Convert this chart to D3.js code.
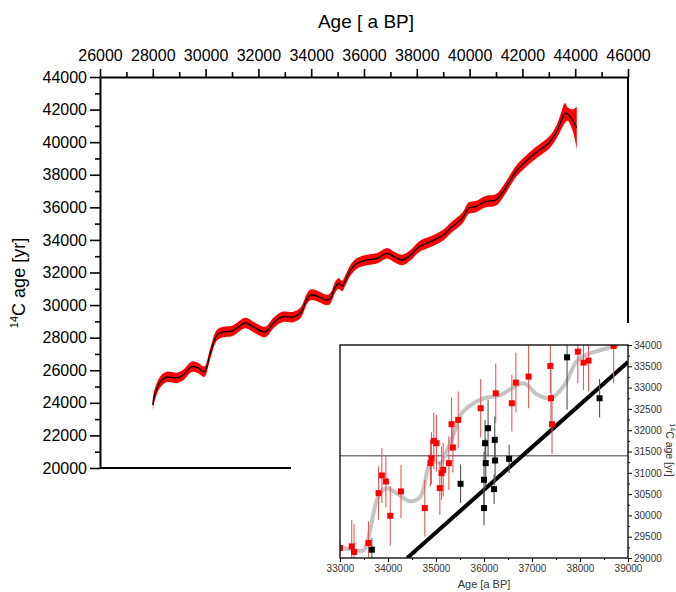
<!DOCTYPE html>
<html>
<head>
<meta charset="utf-8">
<script src="https://cdn.jsdelivr.net/npm/d3@7"></script>
<style>
  body { margin: 0; background: #fff; }
  svg { display: block; font-family: "Liberation Sans", Arial, sans-serif; }
  .axis path, .axis line { stroke: #000; }
</style>
</head>
<body>
<svg id="chart" width="676" height="592"></svg>
<script>
// main calibration curve: calendar age vs 14C age, with 1-sigma band
const mainAge = [28000, 28050, 28280, 28530, 28910, 29150, 29480, 29720, 29950, 30180,
  30430, 30670, 31000, 31510, 31810, 32260, 32570, 32900, 33320, 33590,
  33970, 34600, 34730, 34920, 35040, 35170, 35300, 35490, 35740, 36120,
  36500, 36880, 37130, 37450, 37770, 38080, 38520, 39000, 39280, 39730,
  39970, 40230, 40610, 40990, 41180, 41430, 41750, 42190, 42570, 43000,
  43270, 43460, 43610, 43710, 43900, 44060];
const mainC14 = [23870, 24360, 25280, 25590, 25530, 25710, 26220, 26140, 25910, 27050,
  28160, 28350, 28410, 28900, 28660, 28350, 28900, 29270, 29270, 29510,
  30620, 30310, 30420, 31130, 31340, 31170, 31540, 32150, 32570, 32770,
  32870, 33180, 32970, 32770, 33070, 33580, 33890, 34300, 34730, 35350,
  35960, 36040, 36350, 36450, 36760, 37370, 38190, 38910, 39420, 39950,
  40560, 41260, 41790, 41730, 41360, 40870];
const mainErr = [380, 370, 340, 320, 320, 320, 320, 320, 320, 330,
  330, 320, 320, 320, 320, 320, 320, 320, 320, 320,
  330, 320, 320, 330, 330, 320, 320, 330, 320, 320,
  320, 320, 320, 320, 320, 330, 330, 330, 330, 340,
  350, 350, 350, 350, 350, 350, 350, 350, 360, 370,
  400, 520, 620, 420, 650, 1300];

const xTicks = [26000, 28000, 30000, 32000, 34000, 36000, 38000, 40000, 42000, 44000, 46000];
const yTicks = [20000, 22000, 24000, 26000, 28000, 30000, 32000, 34000, 36000, 38000, 40000, 42000, 44000];

// inset: red and black dated samples with error bars
const redAge = [33000, 33244, 33293, 33593, 33803, 33872, 33956, 34047, 34270, 34766,
  34884, 34905, 34954, 35010, 35080, 35115, 35150, 35268, 35324, 35352,
  35463, 35931, 36245, 36580, 36664, 36929, 37396, 37382, 37417, 37955,
  38073, 38178, 38701];
const redC14 = [29234, 29273, 29141, 29352, 30523, 30938, 30797, 29992, 30563, 30172,
  31227, 31344, 31750, 31695, 30641, 30992, 31070, 31227, 32141, 31594,
  32242, 32516, 32867, 32633, 33117, 33258, 32750, 33508, 32141, 33844,
  33586, 33633, 33977];
const redErr = [150, 620, 650, 510, 625, 645, 605, 700, 625, 665,
  545, 605, 665, 665, 625, 625, 625, 625, 625, 585,
  665, 685, 700, 665, 700, 740, 665, 640, 700, 740,
  640, 720, 880];

const blackAge = [33663, 35512, 36001, 36001, 36022, 36036, 36085, 36224, 36231, 36210, 36524, 37731, 38408];
const blackC14 = [29195, 30742, 30836, 30172, 31695, 31227, 32047, 31773, 31289, 30617, 31328, 33711, 32750];
const blackErr = [275, 450, 665, 410, 545, 585, 665, 545, 510, 350, 330, 1230, 450];

// smoothed record in the inset
const grayAge = [33000, 33250, 33490, 33628, 33768, 33880, 33977, 34186, 34465, 34675,
  34849, 34954, 35094, 35233, 35380, 35512, 35721, 36001, 36350, 36629,
  36838, 37117, 37396, 37676, 37955, 38304, 38722, 38900];
const grayC14 = [29240, 29200, 29180, 29660, 30370, 30580, 30640, 30520, 30330, 30440,
  31150, 31270, 31230, 31540, 31950, 32360, 32590, 32750, 32830, 33020,
  33100, 32830, 32750, 33060, 33650, 33840, 33977, 34080];

const oneToOneAge = [34400, 39000];
const oneToOneC14 = [29000, 33600];
const refLineC14 = 31400;

const insetXTicks = [33000, 34000, 35000, 36000, 37000, 38000, 39000];
const insetYTicks = [29000, 29500, 30000, 30500, 31000, 31500, 32000, 32500, 33000, 33500, 34000];

const svg = d3.select("#chart");

// ---------- main chart ----------
const x = d3.scaleLinear().domain([26000, 46000]).range([100, 628]);
const y = d3.scaleLinear().domain([20000, 44000]).range([468, 77]);

const mainData = mainAge.map((a, i) => ({ age: a, c14: mainC14[i], err: mainErr[i] }));

const band = d3.area()
    .x(d => x(d.age))
    .y0(d => y(d.c14 - d.err))
    .y1(d => y(d.c14 + d.err))
    .curve(d3.curveCatmullRom.alpha(0.5));

const line = d3.line()
    .x(d => x(d.age))
    .y(d => y(d.c14))
    .curve(d3.curveCatmullRom.alpha(0.5));

svg.append("path").datum(mainData)
    .attr("d", band)
    .attr("fill", "#ff0000");

svg.append("path").datum(mainData)
    .attr("d", line)
    .attr("fill", "none")
    .attr("stroke", "#000")
    .attr("stroke-width", 1.3);

// top axis
const minorX = d3.range(27000, 46000, 2000);
svg.append("g").attr("class", "axis")
    .attr("transform", "translate(0,77)")
    .call(d3.axisTop(x).tickValues(minorX).tickSize(5).tickFormat(""))
    .call(g => g.select(".domain").remove())
    .selectAll("line").attr("stroke-width", 1.6);

svg.append("g").attr("class", "axis")
    .attr("transform", "translate(0,77)")
    .call(d3.axisTop(x).tickValues(xTicks).tickSize(8).tickSizeOuter(0).tickPadding(8).tickFormat(d3.format("d")))
    .call(g => g.select(".domain").attr("stroke-width", 2))
    .call(g => g.selectAll("line").attr("stroke-width", 1.6))
    .call(g => g.selectAll("text").attr("font-size", 16).attr("fill", "#000")
        .attr("font-family", "Liberation Sans, Arial, sans-serif"));

// left axis
const minorY = d3.range(21000, 44000, 2000);
svg.append("g").attr("class", "axis")
    .attr("transform", "translate(100,0)")
    .call(d3.axisLeft(y).tickValues(minorY).tickSize(5).tickFormat(""))
    .call(g => g.select(".domain").remove())
    .selectAll("line").attr("stroke-width", 1.6);

svg.append("g").attr("class", "axis")
    .attr("transform", "translate(100,0)")
    .call(d3.axisLeft(y).tickValues(yTicks).tickSize(10).tickSizeOuter(0).tickPadding(3).tickFormat(d3.format("d")))
    .call(g => g.select(".domain").attr("stroke-width", 2))
    .call(g => g.selectAll("line").attr("stroke-width", 1.6))
    .call(g => g.selectAll("text").attr("font-size", 16).attr("fill", "#000")
        .attr("font-family", "Liberation Sans, Arial, sans-serif"));

// right and bottom frame lines
svg.append("line").attr("x1", 628).attr("x2", 628).attr("y1", 77).attr("y2", 468)
    .attr("stroke", "#000").attr("stroke-width", 2);
svg.append("line").attr("x1", 100).attr("x2", 628).attr("y1", 468).attr("y2", 468)
    .attr("stroke", "#000").attr("stroke-width", 2);

svg.append("text")
    .attr("x", 366).attr("y", 28)
    .attr("text-anchor", "middle")
    .attr("font-size", 19)
    .text("Age [ a BP]");

const yLabel = svg.append("text")
    .attr("transform", "translate(25,283) rotate(-90)")
    .attr("text-anchor", "middle")
    .attr("font-size", 18);
yLabel.append("tspan").attr("font-size", 11).attr("dy", -7).text("14");
yLabel.append("tspan").attr("dy", 7).text("C age [yr]");

// ---------- inset ----------
svg.append("rect")
    .attr("x", 291).attr("y", 323)
    .attr("width", 385).attr("height", 269)
    .attr("fill", "#fff");

const ix = d3.scaleLinear().domain([33000, 39000]).range([340, 628]);
const iy = d3.scaleLinear().domain([29000, 34000]).range([558, 345]);

svg.append("clipPath").attr("id", "insetClip")
    .append("rect").attr("x", 340).attr("y", 345).attr("width", 288).attr("height", 213);

const inset = svg.append("g").attr("clip-path", "url(#insetClip)");

inset.append("line")
    .attr("x1", ix(33000)).attr("x2", ix(39000))
    .attr("y1", iy(refLineC14)).attr("y2", iy(refLineC14))
    .attr("stroke", "#7a7a7a").attr("stroke-width", 1.3);

const grayData = grayAge.map((a, i) => ({ age: a, c14: grayC14[i] }));
inset.append("path").datum(grayData)
    .attr("d", d3.line().x(d => ix(d.age)).y(d => iy(d.c14)).curve(d3.curveCatmullRom.alpha(0.5)))
    .attr("fill", "none")
    .attr("stroke", "#c4c4c4")
    .attr("stroke-width", 4)
    .attr("stroke-linecap", "round");

const oneToOne = oneToOneAge.map((a, i) => ({ age: a, c14: oneToOneC14[i] }));
inset.append("path").datum(oneToOne)
    .attr("d", d3.line().x(d => ix(d.age)).y(d => iy(d.c14)))
    .attr("stroke", "#000")
    .attr("stroke-width", 4);

function drawSamples(ages, c14s, errs, barColor, fill) {
    const data = ages.map((a, i) => ({ age: a, c14: c14s[i], err: errs[i] }));
    inset.append("g").selectAll("line")
        .data(data).enter().append("line")
        .attr("x1", d => ix(d.age)).attr("x2", d => ix(d.age))
        .attr("y1", d => iy(d.c14 - d.err)).attr("y2", d => iy(d.c14 + d.err))
        .attr("stroke", barColor).attr("stroke-width", 1.1);
    inset.append("g").selectAll("rect")
        .data(data).enter().append("rect")
        .attr("x", d => ix(d.age) - 3).attr("y", d => iy(d.c14) - 3)
        .attr("width", 6).attr("height", 6)
        .attr("fill", fill);
}

drawSamples(redAge, redC14, redErr, "#e85a5a", "#ff0000");
drawSamples(blackAge, blackC14, blackErr, "#555", "#000");

// inset frame
svg.append("rect")
    .attr("x", 340).attr("y", 345).attr("width", 288).attr("height", 213)
    .attr("fill", "none").attr("stroke", "#111").attr("stroke-width", 1.4);

svg.append("g")
    .attr("transform", "translate(0,558)")
    .call(d3.axisBottom(ix).tickValues(d3.range(33500, 39000, 1000)).tickSize(2).tickFormat(""))
    .call(g => g.select(".domain").remove());

svg.append("g")
    .attr("transform", "translate(0,558)")
    .call(d3.axisBottom(ix).tickValues(insetXTicks).tickSize(4).tickSizeOuter(0).tickPadding(3).tickFormat(d3.format("d")))
    .call(g => g.select(".domain").remove())
    .call(g => g.selectAll("text").attr("font-size", 10).attr("fill", "#333")
        .attr("font-family", "Liberation Sans, Arial, sans-serif"));

svg.append("g")
    .attr("transform", "translate(628,0)")
    .call(d3.axisRight(iy).tickValues(d3.range(29250, 34000, 500)).tickSize(2).tickFormat(""))
    .call(g => g.select(".domain").remove());

svg.append("g")
    .attr("transform", "translate(628,0)")
    .call(d3.axisRight(iy).tickValues(insetYTicks).tickSize(4).tickSizeOuter(0).tickPadding(2).tickFormat(d3.format("d")))
    .call(g => g.select(".domain").remove())
    .call(g => g.selectAll("text").attr("font-size", 10).attr("fill", "#333")
        .attr("font-family", "Liberation Sans, Arial, sans-serif"));

svg.append("text")
    .attr("x", 484).attr("y", 588)
    .attr("text-anchor", "middle")
    .attr("font-size", 11)
    .attr("fill", "#333")
    .text("Age [a BP]");

const iLabel = svg.append("text")
    .attr("transform", "translate(666,450) rotate(90)")
    .attr("text-anchor", "middle")
    .attr("font-size", 10.5)
    .attr("fill", "#333");
iLabel.append("tspan").attr("font-size", 7).attr("dy", -4).text("14");
iLabel.append("tspan").attr("dy", 4).text("C age [yr]");
</script>
</body>
</html>
